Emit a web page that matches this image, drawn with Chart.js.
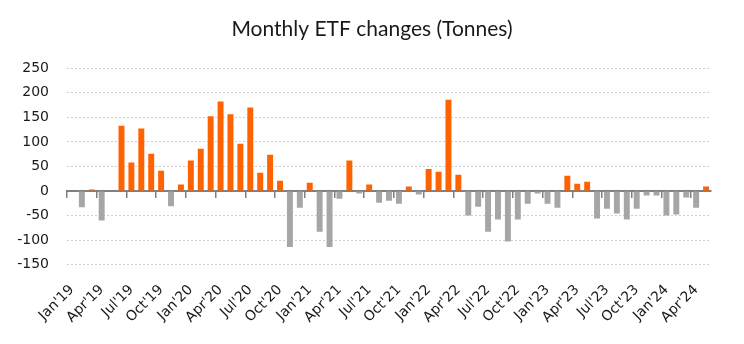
<!DOCTYPE html>
<html>
<head>
<meta charset="utf-8">
<script src="https://cdn.jsdelivr.net/npm/chart.js@4/dist/chart.umd.min.js"></script>
<style>
  html, body { margin: 0; padding: 0; background: #ffffff; }
  #wrap { width: 744px; height: 344px; }
</style>
</head>
<body>
<div id="wrap"><canvas id="etfChart"></canvas></div>
<script>
// month labels, Jan'19 .. May'24
const months = [
    "Jan'19", "Feb'19", "Mar'19", "Apr'19", "May'19", "Jun'19", "Jul'19", "Aug'19", "Sep'19", "Oct'19", "Nov'19", "Dec'19",
    "Jan'20", "Feb'20", "Mar'20", "Apr'20", "May'20", "Jun'20", "Jul'20", "Aug'20", "Sep'20", "Oct'20", "Nov'20", "Dec'20",
    "Jan'21", "Feb'21", "Mar'21", "Apr'21", "May'21", "Jun'21", "Jul'21", "Aug'21", "Sep'21", "Oct'21", "Nov'21", "Dec'21",
    "Jan'22", "Feb'22", "Mar'22", "Apr'22", "May'22", "Jun'22", "Jul'22", "Aug'22", "Sep'22", "Oct'22", "Nov'22", "Dec'22",
    "Jan'23", "Feb'23", "Mar'23", "Apr'23", "May'23", "Jun'23", "Jul'23", "Aug'23", "Sep'23", "Oct'23", "Nov'23", "Dec'23",
    "Jan'24", "Feb'24", "Mar'24", "Apr'24", "May'24"
];

// monthly ETF changes, tonnes
const etfChanges = [
    0, -33, 3, -60, 0, 133, 58, 127, 76, 41, -31, 13,
    62, 86, 152, 182, 156, 96, 170, 37, 74, 21, -114, -34,
    17, -83, -114, -16, 62, -5, 13, -24, -20, -26, 9, -7,
    45, 39, 186, 33, -50, -32, -83, -58, -103, -58, -26, -5,
    -26, -34, 31, 15, 19, -56, -36, -46, -58, -36, -9, -9,
    -50, -48, -13, -34, 9
];

// y axis ticks
const yTicks = [-150, -100, -50, 0, 50, 100, 150, 200, 250];

const ORANGE = '#ff6200';
const GREY = '#a6a6a6';
const AXIS = '#808080';

// keep the title centred on the whole canvas
const centreTitle = {
    id: 'centreTitle',
    afterLayout(chart) {
        const t = chart.titleBlock;
        if (!t) return;
        t.left = 0;
        t.right = chart.width;
        t.width = chart.width;
    }
};

const ctx = document.getElementById('etfChart').getContext('2d');
new Chart(ctx, {
    type: 'bar',
    data: {
        labels: months,
        datasets: [{
            label: 'ETF changes',
            data: etfChanges,
            backgroundColor: etfChanges.map(v => v >= 0 ? ORANGE : GREY),
            barPercentage: 0.6,
            categoryPercentage: 1.0
        }]
    },
    plugins: [centreTitle],
    options: {
        responsive: true,
        maintainAspectRatio: false,
        animation: false,
        layout: { padding: { left: 17, right: 33, top: 0, bottom: 1 } },
        plugins: {
            legend: { display: false },
            tooltip: { enabled: false },
            title: {
                display: true,
                text: 'Monthly ETF changes (Tonnes)',
                color: '#1a1a1a',
                font: { family: 'Lato', size: 21, weight: 'normal' },
                padding: { top: 17, bottom: 26 }
            }
        },
        scales: {
            x: {
                offset: true,
                grid: { display: false, drawTicks: false },
                border: { display: false },
                // let the first slanted label hang into the margin
                afterFit: axis => { axis.paddingLeft = 0; },
                ticks: {
                    autoSkip: false,
                    maxRotation: 45,
                    minRotation: 45,
                    padding: 17,
                    color: '#1a1a1a',
                    font: { family: 'DejaVu Sans', size: 14 },
                    callback: function (val, i) { return i % 3 === 0 ? months[i] : ''; }
                }
            },
            // zero line with tick marks every quarter
            x2: {
                type: 'category',
                labels: months,
                offset: true,
                position: { y: 0 },
                ticks: { display: false },
                grid: {
                    offset: true,
                    drawOnChartArea: false,
                    drawTicks: true,
                    tickLength: 6,
                    lineWidth: 1.5,
                    color: c => (c.index !== undefined && c.index % 3 === 0) ? AXIS : 'rgba(0,0,0,0)'
                },
                border: { display: true, color: AXIS, width: 2 }
            },
            y: {
                min: -150,
                max: 250,
                afterBuildTicks: axis => { axis.ticks = yTicks.map(v => ({ value: v })); },
                afterFit: axis => { axis.width = 50; },
                grid: {
                    drawTicks: false,
                    color: c => c.tick && c.tick.value === 0 ? 'rgba(0,0,0,0)' : '#cfcfcf',
                    lineWidth: 1
                },
                border: { display: false, dash: [2, 2] },
                ticks: {
                    padding: 18,
                    color: '#1a1a1a',
                    font: { family: 'DejaVu Sans', size: 14 }
                }
            }
        }
    }
});
</script>
</body>
</html>
